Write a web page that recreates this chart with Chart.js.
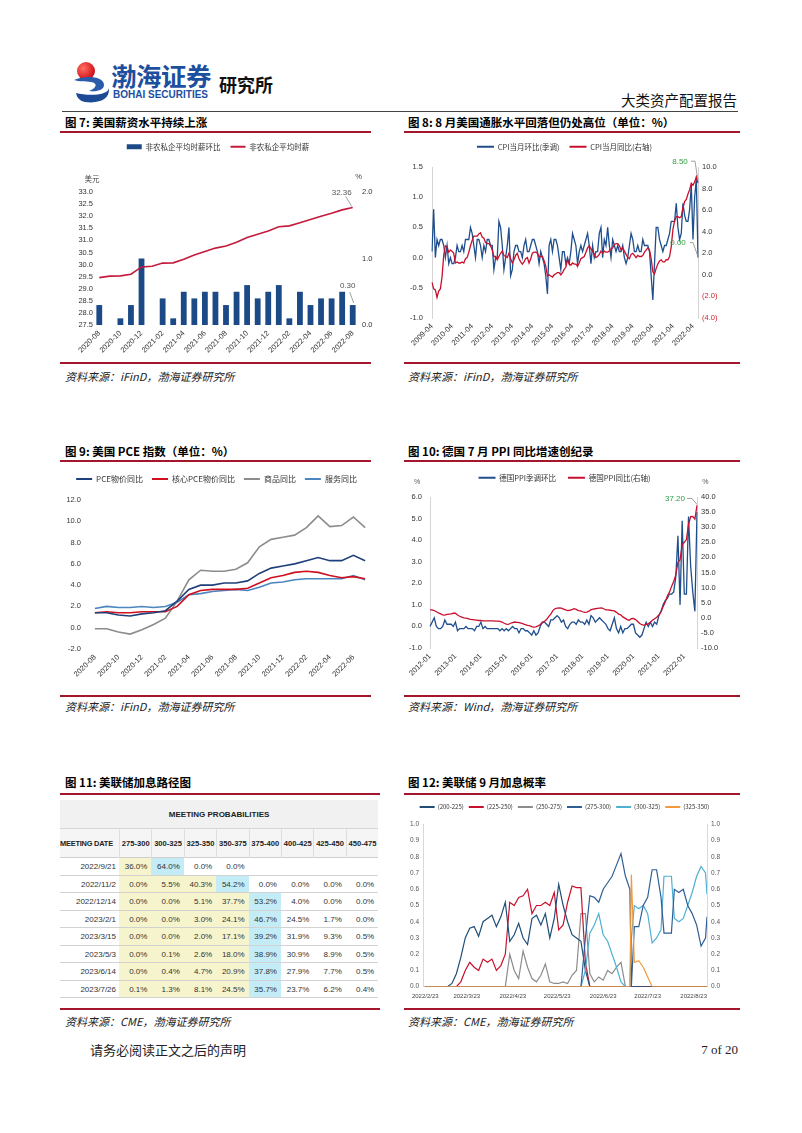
<!DOCTYPE html>
<html lang="zh-CN">
<head>
<meta charset="utf-8">
<title>大类资产配置报告</title>
<script src="https://cdn.jsdelivr.net/npm/chart.js@4.4.1/dist/chart.umd.min.js"></script>
<style>
  html, body { margin: 0; padding: 0; background: #fff; }
  body { position: relative; width: 802px; height: 1133px; overflow: hidden;
         font-family: "Noto Sans CJK SC", "Liberation Sans", sans-serif; color: #111; }
  .abs { position: absolute; white-space: nowrap; }
  .title { position: absolute; font-size: 11.5px; font-weight: 700; line-height: 14px; white-space: nowrap; color: #000; }
  .src { position: absolute; font-size: 11px; font-style: italic; line-height: 14px; color: #222; white-space: nowrap; }
  .redline { position: absolute; height: 1.5px; background: #a3162b; }
  canvas { position: absolute; }
  .cell { position: absolute; box-sizing: border-box; font-family: "Liberation Sans", Arial, sans-serif; white-space: nowrap;
          font-size: 8px; color: #333; text-align: right; padding-right: 4px; overflow: visible; }
</style>
</head>
<body>

<!-- header -->
<svg class="abs" style="left:71px;top:58px" width="42" height="46" viewBox="0 0 42 46">
  <defs>
    <radialGradient id="rb" cx="35%" cy="35%" r="65%">
      <stop offset="0" stop-color="#ff7060"/><stop offset="1" stop-color="#d0101c"/>
    </radialGradient>
  </defs>
  <circle cx="15" cy="13" r="9" fill="url(#rb)"/>
  <path d="M3 22 C14 17 33 18 33 27 C33 32 26 34 18 33 C26 30 27 25 20 24 C14 23 8 24 3 22 Z" fill="#2a5cab"/>
  <path d="M5 35 C16 38 37 38 38 30 C39 40 30 46 14 44 C9 43 6 40 5 35 Z" fill="#1d4a94"/>
</svg>
<div class="abs" style="left:111px;top:61px;font-size:25.5px;line-height:28px;font-weight:700;color:#1d4f9f;letter-spacing:-0.5px">渤海证券</div>
<div class="abs" style="left:113px;top:89px;font-family:'Liberation Sans',Arial,sans-serif;font-size:10px;line-height:12px;font-weight:700;color:#1d4f9f">BOHAI SECURITIES</div>
<div class="abs" style="left:219px;top:73px;font-size:18px;line-height:22px;font-weight:700;color:#111">研究所</div>
<div class="abs" style="left:621px;top:91px;font-size:14.5px;line-height:18px;color:#111">大类资产配置报告</div>
<div class="abs" style="left:62px;top:111px;width:676px;height:1px;background:#444"></div>

<!-- titles and rules -->
<div class="title" style="left:65px;top:115px">图 7: 美国薪资水平持续上涨</div>
<div class="title" style="left:408px;top:115px">图 8: 8 月美国通胀水平回落但仍处高位（单位：%）</div>
<div class="redline" style="left:60px;top:131px;width:311px"></div>
<div class="redline" style="left:404px;top:131px;width:336px"></div>

<canvas id="c7" width="312" height="227" style="left:62px;top:133px"></canvas>
<canvas id="c8" width="325" height="227" style="left:402px;top:133px"></canvas>

<div class="redline" style="left:60px;top:362px;width:311px"></div>
<div class="redline" style="left:404px;top:362px;width:336px"></div>
<div class="src" style="left:65px;top:369px">资料来源：iFinD，渤海证券研究所</div>
<div class="src" style="left:408px;top:369px">资料来源：iFinD，渤海证券研究所</div>

<div class="title" style="left:65px;top:444px">图 9: 美国 PCE 指数（单位：%）</div>
<div class="title" style="left:408px;top:444px">图 10: 德国 7 月 PPI 同比增速创纪录</div>
<div class="redline" style="left:60px;top:460px;width:311px"></div>
<div class="redline" style="left:404px;top:460px;width:336px"></div>

<canvas id="c9" width="310" height="231" style="left:62px;top:462px"></canvas>
<canvas id="c10" width="325" height="231" style="left:402px;top:462px"></canvas>

<div class="redline" style="left:60px;top:695px;width:311px"></div>
<div class="redline" style="left:404px;top:695px;width:336px"></div>
<div class="src" style="left:65px;top:699px">资料来源：iFinD，渤海证券研究所</div>
<div class="src" style="left:408px;top:699px">资料来源：Wind，渤海证券研究所</div>

<div class="title" style="left:65px;top:775px">图 11: 美联储加息路径图</div>
<div class="title" style="left:408px;top:775px">图 12: 美联储 9 月加息概率</div>
<div class="redline" style="left:60px;top:793px;width:320px"></div>
<div class="redline" style="left:404px;top:793px;width:336px"></div>

<div id="fedTable"></div>
<canvas id="c12" width="325" height="208" style="left:402px;top:797px"></canvas>

<div class="redline" style="left:60px;top:1008px;width:320px"></div>
<div class="redline" style="left:404px;top:1008px;width:336px"></div>
<div class="src" style="left:65px;top:1014px">资料来源：CME，渤海证券研究所</div>
<div class="src" style="left:408px;top:1014px">资料来源：CME，渤海证券研究所</div>

<div class="abs" style="left:90px;top:1042px;font-size:13px;line-height:16px;color:#222">请务必阅读正文之后的声明</div>
<div class="abs" style="right:64px;top:1042px;font-family:'Liberation Serif','Times New Roman',serif;font-size:13px;line-height:16px;color:#222">7 of 20</div>

<script>
// ---------- data ----------
function monthLabels(start, n) {
  let [y, m] = start.split('-').map(Number);
  const out = [];
  for (let i = 0; i < n; i++) {
    out.push(y + '-' + String(m).padStart(2, '0'));
    m++;
    if (m > 12) { m = 1; y++; }
  }
  return out;
}

// fig 7: private nonfarm average hourly earnings
const wageMonths = monthLabels('2020-08', 25);
const wageMom = [0.3, 0, 0.1, 0.3, 1.0, 0, 0.4, 0.1, 0.5, 0.4, 0.5, 0.5, 0.3,
                 0.5, 0.6, 0.4, 0.5, 0.6, 0.1, 0.5, 0.3, 0.4, 0.4, 0.5, 0.3];
const wageLevel = [29.46, 29.52, 29.53, 29.60, 29.90, 29.93, 30.06, 30.07, 30.22, 30.39, 30.54, 30.68, 30.77,
                   30.92, 31.12, 31.25, 31.39, 31.56, 31.60, 31.73, 31.86, 32.00, 32.12, 32.26, 32.36];

// fig 8: US CPI, 2009-04 .. 2022-07
const cpiMonths = monthLabels('2009-04', 160);
const cpiMom = [
  0.1, 0.8, 0.0, 0.3, 0.2, 0.3, 0.3, 0.2, 0.0,
  0.2, -0.1, 0.0, -0.1, -0.1, 0.0, 0.2, 0.1, 0.1, 0.2, 0.1, 0.3,
  0.3, 0.3, 0.5, 0.4, 0.2, 0.0, 0.3, 0.3, 0.2, 0.0, 0.2, 0.1,
  0.3, 0.3, 0.2, 0.2, -0.2, 0.0, 0.0, 0.6, 0.5, 0.2, -0.2, 0.0,
  0.2, 0.5, -0.3, -0.2, 0.1, 0.2, 0.2, 0.1, 0.1, 0.0, 0.2, 0.3,
  0.1, 0.1, 0.2, 0.3, 0.3, 0.2, 0.1, -0.1, 0.1, 0.0, -0.1, -0.3,
  -0.6, 0.2, 0.3, 0.1, 0.3, 0.3, 0.2, 0.0, -0.2, 0.1, 0.1, -0.1,
  0.0, -0.1, 0.1, 0.4, 0.3, 0.2, -0.1, 0.1, 0.2, 0.1, 0.2, 0.3,
  0.4, 0.2, -0.1, 0.2, 0.0, 0.1, 0.1, 0.4, 0.5, 0.0, 0.3, 0.2,
  0.5, 0.2, 0.0, 0.3, 0.2, 0.1, 0.2, 0.1, 0.1, 0.2, 0.0, -0.1,
  0.0, 0.2, 0.4, 0.3, 0.1, 0.1, 0.2, 0.1, 0.1, 0.3, 0.2, 0.2,
  0.2, 0.1, -0.3, -0.7, -0.1, 0.5, 0.5, 0.3, 0.2, 0.1, 0.2, 0.2,
  0.3, 0.4, 0.6, 0.6, 0.6, 0.9, 0.5, 0.3, 0.4, 0.9, 0.7, 0.6,
  0.6, 0.8, 1.2, 0.3, 1.0, 1.3, 0.0
];
const cpiYoy = [
  -0.7, -1.3, -1.4, -2.1, -1.5, -1.3, -0.2, 1.8, 2.7,
  2.6, 2.1, 2.3, 2.2, 2.0, 1.1, 1.2, 1.1, 1.1, 1.2, 1.1, 1.5,
  1.6, 2.1, 2.7, 3.2, 3.6, 3.6, 3.6, 3.8, 3.9, 3.5, 3.4, 3.0,
  2.9, 2.9, 2.7, 2.3, 1.7, 1.7, 1.4, 1.7, 2.0, 2.2, 1.8, 1.7,
  1.6, 2.0, 1.5, 1.1, 1.4, 1.8, 2.0, 1.5, 1.2, 1.0, 1.2, 1.5,
  1.6, 1.1, 1.5, 2.0, 2.1, 2.1, 2.0, 1.7, 1.7, 1.7, 1.3, 0.8,
  -0.1, 0.0, -0.1, -0.2, 0.0, 0.1, 0.2, 0.2, 0.0, 0.2, 0.5, 0.7,
  1.4, 1.0, 0.9, 1.1, 1.0, 1.0, 0.8, 1.1, 1.5, 1.6, 1.7, 2.1,
  2.5, 2.7, 2.4, 2.2, 1.9, 1.6, 1.7, 1.9, 2.2, 2.0, 2.2, 2.1,
  2.1, 2.2, 2.4, 2.5, 2.8, 2.9, 2.9, 2.7, 2.3, 2.5, 2.2, 1.9,
  1.6, 1.5, 1.9, 2.0, 1.8, 1.6, 1.8, 1.7, 1.7, 1.8, 2.1, 2.3,
  2.5, 2.3, 1.5, 0.3, 0.1, 0.6, 1.0, 1.3, 1.4, 1.2, 1.2, 1.4,
  1.4, 1.7, 2.6, 4.2, 5.0, 5.4, 5.4, 5.3, 5.4, 6.2, 6.8, 7.0,
  7.5, 7.9, 8.5, 8.3, 8.6, 9.1, 8.5
];

// fig 9: US PCE, 2020-08 .. 2022-07
const pceMonths = monthLabels('2020-08', 24);
const pceYoy      = [1.4, 1.4, 1.2, 1.1, 1.3, 1.4, 1.6, 2.5, 3.6, 4.0, 4.0, 4.2, 4.2, 4.4, 5.1, 5.6, 5.8, 6.0, 6.3, 6.6, 6.3, 6.3, 6.8, 6.3];
const corePceYoy  = [1.4, 1.5, 1.4, 1.4, 1.5, 1.5, 1.5, 2.0, 3.1, 3.5, 3.6, 3.6, 3.6, 3.7, 4.2, 4.7, 4.9, 5.2, 5.3, 5.2, 4.9, 4.7, 4.8, 4.6];
const goodsYoy    = [-0.1, -0.1, -0.4, -0.6, -0.2, 0.3, 0.9, 2.5, 4.5, 5.4, 5.3, 5.3, 5.5, 6.1, 7.6, 8.3, 8.5, 8.7, 9.4, 10.5, 9.5, 9.6, 10.4, 9.4];
const servicesYoy = [1.8, 2.0, 1.9, 1.9, 2.0, 1.9, 2.0, 2.4, 3.1, 3.2, 3.4, 3.5, 3.6, 3.5, 3.8, 4.2, 4.3, 4.5, 4.6, 4.6, 4.6, 4.6, 4.9, 4.5];

// fig 10: German PPI, 2012-01 .. 2022-07
const ppiMonths = monthLabels('2012-01', 127);
const ppiMom = [
  0.0, 0.2, 0.4, 0.0, -0.1, -0.1, 0.0, 0.3, 0.1, 0.1, 0.1, 0.0,
  0.2, -0.2, -0.1, -0.1, -0.1, 0.0, -0.1, -0.1, -0.1, -0.2, 0.0, 0.0,
  0.2, -0.1, 0.0, -0.1, -0.1, -0.1, -0.1, -0.1, -0.1, -0.2, -0.1, -0.2,
  -0.1, -0.2, -0.1, 0.0, -0.1, -0.1, -0.3, -0.1, -0.1, -0.2, -0.2, -0.3,
  -0.4, -0.2, -0.4, -0.3, 0.0, 0.2, 0.2, 0.1, 0.0, 0.3, 0.3, 0.4,
  0.5, 0.4, 0.2, 0.3, 0.0, -0.1, 0.1, 0.2, 0.2, 0.1, 0.3, 0.2,
  0.2, 0.1, 0.3, 0.1, 0.5, 0.4, 0.2, 0.3, 0.4, 0.3, 0.2, 0.1,
  -0.1, -0.2, 0.1, 0.4, -0.1, -0.3, 0.0, -0.3, -0.1, -0.1, 0.0, 0.1,
  0.1, -0.3, -0.4, -0.5, -0.4, -0.1, 0.2, 0.0, 0.2, 0.0, 0.2, 0.1,
  0.5, 0.7, 1.0, 1.2, 1.3, 1.5, 1.5, 1.6, 2.3, 4.2, 1.0, 4.9,
  1.5, 1.5, 5.1, 2.8, 1.6, 0.7, 5.3
];
const ppiYoy = [
  2.6, 2.6, 2.4, 2.0, 1.6, 1.3, 1.0, 0.9, 1.1, 1.2, 1.3, 1.5,
  1.5, 0.9, 0.5, 0.2, 0.0, -0.1, -0.3, -0.5, -0.6, -0.7, -0.8, -0.9,
  -0.9, -1.0, -1.0, -1.0, -1.0, -1.0, -1.0, -1.1, -1.1, -1.2, -1.4, -1.8,
  -2.1, -2.2, -1.8, -1.6, -1.4, -1.5, -1.6, -1.8, -2.0, -2.3, -2.5, -2.6,
  -2.9, -3.1, -3.0, -2.7, -2.2, -1.6, -1.2, -0.6, 0.4, 1.2, 2.4, 3.0,
  3.2, 3.3, 3.2, 2.9, 2.6, 2.4, 2.5, 2.7, 3.0, 2.8, 2.4, 2.3,
  2.0, 1.8, 1.9, 2.2, 2.7, 2.9, 3.0, 3.1, 3.2, 3.3, 3.0, 2.6,
  2.6, 2.5, 2.4, 2.3, 1.8, 1.2, 1.0, 0.3, -0.1, -0.6, -0.8, -0.3,
  -0.2, -0.6, -1.2, -1.9, -2.3, -2.5, -2.2, -2.0, -1.5, -0.8, -0.3, 0.2,
  0.9, 1.9, 3.7, 5.2, 7.2, 8.5, 10.4, 12.0, 14.2, 18.4, 19.2, 24.2,
  25.0, 25.9, 30.9, 33.5, 33.6, 32.7, 37.2
];

// fig 11: CME meeting probabilities
const rateRanges = ['275-300', '300-325', '325-350', '350-375', '375-400', '400-425', '425-450', '450-475'];
const meetingDates = ['2022/9/21', '2022/11/2', '2022/12/14', '2023/2/1', '2023/3/15', '2023/5/3', '2023/6/14', '2023/7/26'];
const prob20220921 = [36.0, 64.0, 0.0, 0.0, null, null, null, null];
const prob20221102 = [0.0, 5.5, 40.3, 54.2, 0.0, 0.0, 0.0, 0.0];
const prob20221214 = [0.0, 0.0, 5.1, 37.7, 53.2, 4.0, 0.0, 0.0];
const prob20230201 = [0.0, 0.0, 3.0, 24.1, 46.7, 24.5, 1.7, 0.0];
const prob20230315 = [0.0, 0.0, 2.0, 17.1, 39.2, 31.9, 9.3, 0.5];
const prob20230503 = [0.0, 0.1, 2.6, 18.0, 38.9, 30.9, 8.9, 0.5];
const prob20230614 = [0.0, 0.4, 4.7, 20.9, 37.8, 27.9, 7.7, 0.5];
const prob20230726 = [0.1, 1.3, 8.1, 24.5, 35.7, 23.7, 6.2, 0.4];
const probRows = [prob20220921, prob20221102, prob20221214, prob20230201,
                  prob20230315, prob20230503, prob20230614, prob20230726];

// fig 12: Sep meeting target-range probabilities, days after 2022/2/23
const fedDays = [0, 3, 6, 9, 12, 15, 18, 21, 24, 27, 30, 33, 36, 39, 42, 45, 48, 51, 54, 57,
                 60, 63, 66, 69, 72, 75, 78, 81, 84, 87, 90, 93, 96, 99, 102, 105, 108, 111, 114, 117,
                 120, 123, 126, 129, 132, 135, 138, 139, 141, 144, 147, 150, 153, 156, 159, 161, 162, 165, 166, 168,
                 171, 174, 177, 180, 183, 186, 189, 190];
const fedTickDays = [0, 28, 59, 89, 120, 150, 181];
const fedTickLabels = ['2022/2/23', '2022/3/23', '2022/4/23', '2022/5/23', '2022/6/23', '2022/7/23', '2022/8/23'];
const p200to225 = [0, 0, 0, 0, 0, 0, 0.02, 0.08, 0.18, 0.30, 0.36, 0.37, 0.31, 0.40, 0.42, 0.44, 0.37, 0.43, 0.52, 0.28,
                   0.32, 0.39, 0.30, 0.26, 0.42, 0.44, 0.38, 0.45, 0.30, 0.42, 0.63, 0.50, 0.40, 0.32, 0.30, 0.28, 0.10, 0, 0, 0,
                   0, 0, 0, 0, 0, 0, 0, 0, 0, 0, 0, 0, 0, 0, 0, 0, 0, 0, 0, 0,
                   0, 0, 0, 0, 0, 0, 0, 0];
const p225to250 = [0, 0, 0, 0, 0, 0, 0, 0, 0.03, 0.10, 0.15, 0.12, 0.10, 0.17, 0.15, 0.17, 0.10, 0.13, 0.20, 0.52,
                   0.50, 0.55, 0.56, 0.60, 0.45, 0.50, 0.50, 0.52, 0.50, 0.58, 0.35, 0.38, 0.52, 0.62, 0.61, 0.61, 0.15, 0, 0, 0,
                   0, 0, 0, 0, 0, 0, 0, 0, 0, 0, 0, 0, 0, 0, 0, 0, 0, 0, 0, 0,
                   0, 0, 0, 0, 0, 0, 0, 0];
const p250to275 = [0, 0, 0, 0, 0, 0, 0, 0, 0, 0, 0, 0, 0, 0, 0, 0, 0, 0, 0, 0.20,
                   0.10, 0.05, 0.22, 0.12, 0.05, 0.03, 0.07, 0.14, 0.03, 0.02, 0.02, 0.03, 0.02, 0.07, 0.10, 0.45, 0.45, 0.08, 0.03, 0.06,
                   0.04, 0.10, 0.08, 0.12, 0.15, 0, 0, 0, 0, 0, 0, 0, 0, 0, 0, 0, 0, 0, 0, 0,
                   0, 0, 0, 0, 0, 0, 0, 0];
const p275to300 = [0, 0, 0, 0, 0, 0, 0, 0, 0, 0, 0, 0, 0, 0, 0, 0, 0, 0, 0, 0,
                   0, 0, 0, 0, 0, 0, 0, 0, 0, 0, 0, 0, 0, 0, 0, 0, 0.30, 0.56, 0.55, 0.52,
                   0.60, 0.64, 0.68, 0.75, 0.82, 0.68, 0.60, 0.00, 0.37, 0.37, 0.50, 0.55, 0.72, 0.72, 0.55, 0.33, 0.33, 0.33, 0.33, 0.60,
                   0.58, 0.60, 0.50, 0.45, 0.38, 0.25, 0.30, 0.43];
const p300to325 = [0, 0, 0, 0, 0, 0, 0, 0, 0, 0, 0, 0, 0, 0, 0, 0, 0, 0, 0, 0,
                   0, 0, 0, 0, 0, 0, 0, 0, 0, 0, 0, 0, 0, 0, 0, 0, 0.10, 0.33, 0.38, 0.45,
                   0.32, 0.28, 0.20, 0.12, 0.03, 0, 0, 0.30, 0.50, 0.48, 0.50, 0.45, 0.27, 0.30, 0.35, 0.68, 0.68, 0.68, 0.68, 0.42,
                   0.40, 0.42, 0.50, 0.58, 0.68, 0.74, 0.70, 0.57];
const p325to350 = [0, 0, 0, 0, 0, 0, 0, 0, 0, 0, 0, 0, 0, 0, 0, 0, 0, 0, 0, 0,
                   0, 0, 0, 0, 0, 0, 0, 0, 0, 0, 0, 0, 0, 0, 0, 0, 0, 0, 0, 0,
                   0, 0, 0, 0, 0, 0, 0, 0.69, 0.15, 0.16, 0.12, 0.06, 0, 0, 0, 0, 0, 0, 0, 0,
                   0, 0, 0, 0, 0, 0, 0, 0];

// ---------- chart helpers ----------
const NUM_FONT = '"Liberation Sans", Arial, sans-serif';
const CJK_FONT = '"Noto Sans CJK SC", "Liberation Sans", sans-serif';
Chart.defaults.font.family = NUM_FONT;
Chart.defaults.color = '#333';

// keeps the legend block a fixed height so the plot areas line up
function legendHeight(h) {
  return {
    id: 'legendHeight',
    beforeInit(chart) {
      const lg = chart.legend, fit = lg.fit;
      lg.fit = function () { fit.call(this); this.height = h; };
    }
  };
}

function legendOpts(size, pad, boxW) {
  return {
    display: true,
    position: 'top',
    labels: {
      font: { family: CJK_FONT, size: size },
      color: '#333',
      padding: pad,
      usePointStyle: true,
      pointStyleWidth: boxW,
      boxHeight: 5,
      sort: (a, b) => a.datasetIndex - b.datasetIndex,
      generateLabels(chart) {
        return chart.data.datasets.map((ds, i) => {
          const isBar = ds.type === 'bar';
          const col = isBar ? ds.backgroundColor : ds.borderColor;
          return {
            text: ds.label, datasetIndex: i, fillStyle: col, strokeStyle: col, fontColor: '#333',
            lineWidth: isBar ? 0 : 2, pointStyle: isBar ? 'rect' : 'line', hidden: false
          };
        });
      }
    }
  };
}

function yAxis(pos, min, max, step, width, more) {
  const ax = {
    position: pos, min: min, max: max,
    grid: { display: false, drawTicks: false },
    border: { display: false },
    ticks: { stepSize: step, font: { size: 7.5 }, color: '#333', padding: 4, callback: v => v.toFixed(1) },
    afterFit: s => { s.width = width; }
  };
  if (more) {
    Object.assign(ax.ticks, more.ticks || {});
    if (more.border) ax.border = more.border;
  }
  return ax;
}

function xCat(height, every, offset, size) {
  return {
    type: 'category', offset: offset,
    grid: { display: false, drawTicks: false },
    border: { display: false },
    ticks: {
      autoSkip: false, maxRotation: 45, minRotation: 45, font: { size: size || 7.5 }, color: '#333', padding: 4,
      callback: function (v, i) { return i % every === 0 ? this.getLabelForValue(v) : null; }
    },
    afterFit: s => { s.height = height; }
  };
}

const baseOpts = { responsive: false, animation: false, devicePixelRatio: 1, layout: { padding: 0 } };
const GREEN = '#2ea043';

// ---------- fig 7 ----------
const fig7Notes = {
  id: 'fig7Notes',
  afterDraw(chart) {
    const { ctx, chartArea: ca } = chart;
    ctx.save();
    ctx.textAlign = 'center';
    ctx.textBaseline = 'middle';
    ctx.fillStyle = '#444';
    ctx.font = '7.5px ' + CJK_FONT;
    ctx.fillText('美元', ca.left - 2, ca.top - 12.7);
    ctx.font = '7.5px ' + NUM_FONT;
    ctx.fillText('%', ca.right + 0.5, ca.top - 14.7);
    const lp = chart.getDatasetMeta(1).data[wageLevel.length - 1];
    const bp = chart.getDatasetMeta(0).data[wageMom.length - 1];
    ctx.fillStyle = '#555';
    ctx.font = '8px ' + NUM_FONT;
    ctx.fillText(wageLevel[wageLevel.length - 1].toFixed(2), lp.x - 11, lp.y - 15);
    ctx.fillText(wageMom[wageMom.length - 1].toFixed(2), bp.x - 5, bp.y - 19);
    ctx.strokeStyle = '#888';
    ctx.lineWidth = 0.8;
    ctx.beginPath();
    ctx.moveTo(lp.x - 7, lp.y - 11); ctx.lineTo(lp.x - 1, lp.y - 1);
    ctx.moveTo(bp.x - 3, bp.y - 13); ctx.lineTo(bp.x + 1, bp.y - 2);
    ctx.stroke();
    ctx.restore();
  }
};

new Chart(document.getElementById('c7'), {
  type: 'bar',
  data: {
    labels: wageMonths,
    datasets: [
      { type: 'bar', label: '非农私企平均时薪环比', data: wageMom, yAxisID: 'yR',
        backgroundColor: '#1b4a86', barPercentage: 0.55, categoryPercentage: 1, order: 2 },
      { type: 'line', label: '非农私企平均时薪', data: wageLevel, yAxisID: 'y',
        borderColor: '#c41a3b', borderWidth: 1.6, pointRadius: 0, tension: 0, order: 1 }
    ]
  },
  options: Object.assign({}, baseOpts, {
    plugins: { legend: legendOpts(7.5, 10, 15), tooltip: { enabled: false } },
    scales: {
      x: xCat(35, 2, true),
      y: yAxis('left', 27.5, 33, 0.5, 32, { ticks: { padding: 1 } }),
      yR: yAxis('right', 0, 2, 1, 16)
    }
  }),
  plugins: [legendHeight(59), fig7Notes]
});

// ---------- fig 8 ----------
const fig8Notes = {
  id: 'fig8Notes',
  afterDraw(chart) {
    const ctx = chart.ctx;
    const rp = chart.getDatasetMeta(1).data[cpiYoy.length - 1];
    const bp = chart.getDatasetMeta(0).data[cpiMom.length - 1];
    ctx.save();
    ctx.font = '8px ' + NUM_FONT;
    ctx.textAlign = 'center';
    ctx.textBaseline = 'middle';
    ctx.fillStyle = GREEN;
    ctx.fillText(cpiYoy[cpiYoy.length - 1].toFixed(2), rp.x - 18, rp.y - 21);
    ctx.fillText(cpiMom[cpiMom.length - 1].toFixed(2), bp.x - 20, bp.y - 15);
    ctx.strokeStyle = '#888';
    ctx.lineWidth = 0.8;
    ctx.beginPath();
    ctx.moveTo(rp.x - 7, rp.y - 22); ctx.lineTo(rp.x - 3, rp.y - 22); ctx.lineTo(rp.x, rp.y - 2);
    ctx.moveTo(bp.x - 8, bp.y - 15); ctx.lineTo(bp.x - 5, bp.y - 15); ctx.lineTo(bp.x, bp.y - 1);
    ctx.stroke();
    ctx.restore();
  }
};

new Chart(document.getElementById('c8'), {
  type: 'line',
  data: {
    labels: cpiMonths,
    datasets: [
      { label: 'CPI当月环比(季调)', data: cpiMom, yAxisID: 'y', borderColor: '#1f4e8c',
        borderWidth: 1.3, pointRadius: 0, tension: 0, order: 2 },
      { label: 'CPI当月同比(右轴)', data: cpiYoy, yAxisID: 'yR', borderColor: '#c8102e',
        borderWidth: 1.3, pointRadius: 0, tension: 0, order: 1 }
    ]
  },
  options: Object.assign({}, baseOpts, {
    plugins: { legend: legendOpts(7.5, 10, 17), tooltip: { enabled: false } },
    scales: {
      x: xCat(42, 12, false),
      y: yAxis('left', -1, 1.5, 0.5, 30, { border: { display: true, color: '#d4d4d4' }, ticks: { padding: 9 } }),
      yR: yAxis('right', -4, 10, 2, 29, {
        border: { display: true, color: '#d4d4d4' },
        ticks: {
          callback: v => (v < 0 ? '(' + Math.abs(v).toFixed(1) + ')' : v.toFixed(1)),
          color: c => (c.tick && c.tick.value < 0 ? '#d0202a' : '#333')
        }
      })
    }
  }),
  plugins: [legendHeight(34), fig8Notes]
});

// ---------- fig 9 ----------
new Chart(document.getElementById('c9'), {
  type: 'line',
  data: {
    labels: pceMonths,
    datasets: [
      { label: 'PCE物价同比', data: pceYoy, borderColor: '#1f3f7a', borderWidth: 1.6, pointRadius: 0, tension: 0 },
      { label: '核心PCE物价同比', data: corePceYoy, borderColor: '#d0101e', borderWidth: 1.6, pointRadius: 0, tension: 0 },
      { label: '商品同比', data: goodsYoy, borderColor: '#8c8c8c', borderWidth: 1.6, pointRadius: 0, tension: 0 },
      { label: '服务同比', data: servicesYoy, borderColor: '#4a86c0', borderWidth: 1.6, pointRadius: 0, tension: 0 }
    ]
  },
  options: Object.assign({}, baseOpts, {
    layout: { padding: { top: 4, right: 1 } },
    plugins: { legend: legendOpts(8, 9, 16), tooltip: { enabled: false } },
    scales: {
      x: xCat(44, 2, true),
      y: yAxis('left', -2, 12, 2, 27, { ticks: { padding: 8 } })
    }
  }),
  plugins: [legendHeight(34)]
});

// ---------- fig 10 ----------
const fig10Notes = {
  id: 'fig10Notes',
  afterDraw(chart) {
    const { ctx, chartArea: ca } = chart;
    const rp = chart.getDatasetMeta(1).data[ppiYoy.length - 1];
    ctx.save();
    ctx.textAlign = 'center';
    ctx.textBaseline = 'middle';
    ctx.font = '7px ' + NUM_FONT;
    ctx.fillStyle = '#555';
    ctx.fillText('%', ca.left - 13, ca.top - 14.7);
    ctx.fillText('%', ca.right + 8.3, ca.top - 14.7);
    ctx.font = '8px ' + NUM_FONT;
    ctx.fillStyle = GREEN;
    ctx.fillText(ppiYoy[ppiYoy.length - 1].toFixed(2), rp.x - 22, rp.y - 6.5);
    ctx.strokeStyle = '#888';
    ctx.lineWidth = 0.8;
    ctx.beginPath();
    ctx.moveTo(rp.x - 10, rp.y - 7); ctx.lineTo(rp.x - 5, rp.y - 7); ctx.lineTo(rp.x, rp.y - 1);
    ctx.stroke();
    ctx.restore();
  }
};

new Chart(document.getElementById('c10'), {
  type: 'line',
  data: {
    labels: ppiMonths,
    datasets: [
      { label: '德国PPI季调环比', data: ppiMom, yAxisID: 'y', borderColor: '#1f4e8c',
        borderWidth: 1.3, pointRadius: 0, tension: 0, order: 2 },
      { label: '德国PPI同比(右轴)', data: ppiYoy, yAxisID: 'yR', borderColor: '#c8102e',
        borderWidth: 1.3, pointRadius: 0, tension: 0, order: 1 }
    ]
  },
  options: Object.assign({}, baseOpts, {
    plugins: { legend: legendOpts(7.5, 12, 17), tooltip: { enabled: false } },
    scales: {
      x: xCat(45, 12, false),
      y: yAxis('left', -1, 6, 1, 28, { border: { display: true, color: '#d4d4d4' }, ticks: { padding: 8 } }),
      yR: yAxis('right', -10, 40, 5, 30, { border: { display: true, color: '#d4d4d4' } })
    }
  }),
  plugins: [legendHeight(35), fig10Notes]
});

// ---------- fig 11 (table) ----------
(function buildTable() {
  const host = document.getElementById('fedTable');
  const left = 60, firstW = 59, colW = 32.4, totalW = firstW + colW * rateRanges.length;
  const add = (style, text, cls) => {
    const d = document.createElement('div');
    d.className = cls || 'cell';
    d.style.cssText = style;
    if (text != null) d.textContent = text;
    host.appendChild(d);
    return d;
  };
  // title row
  add(`left:${left}px;top:800px;width:${totalW}px;height:29px;background:#f1f1f1;border-bottom:1px solid #d6d6d6;` +
      `text-align:center;padding:0;font-weight:700;line-height:29px;color:#222`, 'MEETING PROBABILITIES');
  // header row
  add(`left:${left}px;top:829px;width:${totalW}px;height:29px;background:#f5f5f5;border-bottom:1px solid #cfcfcf;`, null);
  add(`left:${left}px;top:829px;width:${firstW}px;height:29px;line-height:29px;text-align:left;padding:0;` +
      `font-weight:700;color:#222;font-size:7.4px;letter-spacing:-0.2px`, 'MEETING DATE');
  rateRanges.forEach((r, j) => {
    add(`left:${left + firstW + colW * j}px;top:829px;width:${colW}px;height:29px;line-height:29px;text-align:center;` +
        `padding:0;font-weight:700;color:#222;border-left:1px solid #dedede;font-size:7.6px`, r);
  });
  // data rows
  const rowH = 17.5;
  probRows.forEach((row, i) => {
    const top = 858 + rowH * i;
    add(`left:${left}px;top:${top}px;width:${totalW}px;height:${rowH}px;border-bottom:1px solid #d2d2d2;`, null);
    add(`left:${left}px;top:${top}px;width:${firstW}px;height:${rowH}px;line-height:${rowH}px;padding-right:3px`, meetingDates[i]);
    let best = 0;
    row.forEach((v, j) => { if (v != null && v > row[best]) best = j; });
    row.forEach((v, j) => {
      const bg = j === best ? '#c3ecf7' : (j < best ? '#f6f4cc' : 'transparent');
      add(`left:${left + firstW + colW * j}px;top:${top}px;width:${colW}px;height:${rowH - 1}px;` +
          `line-height:${rowH}px;background:${bg}`, v == null ? '' : v.toFixed(1) + '%');
    });
  });
})();

// ---------- fig 12 ----------
function fedSeries(vals) { return fedDays.map((d, i) => ({ x: d, y: vals[i] })); }

new Chart(document.getElementById('c12'), {
  type: 'line',
  data: {
    datasets: [
      { label: '(200-225)', data: fedSeries(p200to225), borderColor: '#1f4e79', order: 3 },
      { label: '(225-250)', data: fedSeries(p225to250), borderColor: '#c8102e', order: 3 },
      { label: '(250-275)', data: fedSeries(p250to275), borderColor: '#8c8c8c', order: 3 },
      { label: '(275-300)', data: fedSeries(p275to300), borderColor: '#2e5f94', order: 2 },
      { label: '(300-325)', data: fedSeries(p300to325), borderColor: '#4fb0d4', order: 2 },
      { label: '(325-350)', data: fedSeries(p325to350), borderColor: '#f59a3c', order: 1 }
    ].map(ds => Object.assign(ds, { borderWidth: 1.2, pointRadius: 0, tension: 0 }))
  },
  options: Object.assign({}, baseOpts, {
    layout: { padding: { top: 2 } },
    plugins: { legend: legendOpts(6, 5, 15), tooltip: { enabled: false } },
    scales: {
      x: {
        type: 'linear', min: -1.5, max: 190,
        grid: { display: false, drawTicks: false },
        border: { display: true, color: '#d0d0d0' },
        afterBuildTicks: s => { s.ticks = fedTickDays.map(v => ({ value: v })); },
        ticks: { autoSkip: false, maxRotation: 0, minRotation: 0, font: { size: 6 }, color: '#444', padding: 6,
                 callback: v => fedTickLabels[fedTickDays.indexOf(v)] },
        afterFit: s => { s.height = 18.3; }
      },
      y: yAxis('left', 0, 1, 0.1, 21, { border: { display: true, color: '#d8d8d8' }, ticks: { font: { size: 6.5 }, color: '#555', padding: 4 } }),
      yR: yAxis('right', 0, 1, 0.1, 20, { border: { display: true, color: '#d8d8d8' }, ticks: { font: { size: 6.5 }, color: '#555', padding: 4 } })
    }
  }),
  plugins: [legendHeight(25.3)]
});
</script>
</body>
</html>
